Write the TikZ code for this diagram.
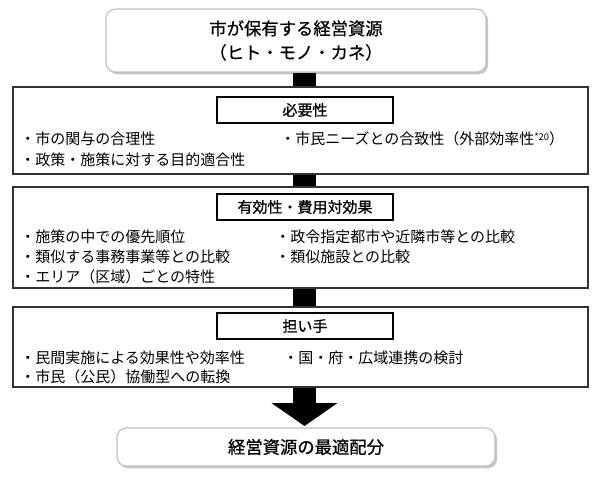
\documentclass[tikz,border=0pt]{standalone}
\usepackage{fontspec}
\setmainfont{Noto Sans CJK JP}
\newfontfamily\gothmed{Noto Sans CJK JP}[FakeBold=0.7]
\usetikzlibrary{shadows,arrows.meta}
\begin{document}
\begin{tikzpicture}[x=0.75pt,y=-0.75pt,
 rbox/.style={draw=black!25, line width=0.8pt, rounded corners=7pt, fill=white,
   drop shadow={shadow xshift=1.6pt, shadow yshift=-1.8pt, fill=black!22, opacity=1},
   inner sep=0pt, align=center, font=\gothmed\fontsize{13}{18}\selectfont},
 bigbox/.style={draw=black!80, line width=1.1pt, inner sep=0pt, minimum width=431.25pt},
 tbox/.style={draw=black, line width=0.8pt, fill=white, inner sep=0pt,
   minimum width=132pt, minimum height=19.5pt, font=\gothmed\fontsize{11.25}{14}\selectfont},
 item/.style={anchor=west, inner sep=0pt, font=\fontsize{11.25}{14}\selectfont},
 bar/.style={line width=17.25pt}
]
\useasboundingbox (0,0) rectangle (600,477);

% main boxes
\node[rbox, minimum width=285pt, minimum height=47.25pt] (top) at (296,40.5)
  {市が保有する経営資源\\（ヒト・モノ・カネ）};
\node[bigbox, minimum height=65.25pt] (box1) at (300.5,130.5) {};
\node[bigbox, minimum height=75.75pt] (box2) at (300.5,237.5) {};
\node[bigbox, minimum height=60pt] (box3) at (300.5,347) {};
\node[rbox, minimum width=283.5pt, minimum height=28.5pt] (bottom) at (306,447) {経営資源の最適配分};

% titles
\node[tbox] (t1) at (305,110) {必要性};
\node[tbox] (t2) at (305,207) {有効性・費用対効果};
\node[tbox] (t3) at (305,326) {担い手};

% items box1
\node[item] (a1) at (20,139) {・市の関与の合理性};
\node[item] (a2) at (20,160) {・政策・施策に対する目的適合性};
\node[item] (a3) at (280,139) {・市民ニーズとの合致性（外部効率性{\fontsize{7}{8}\selectfont\raisebox{0.45em}{*20}}）};

% items box2
\node[item] (b1) at (20,237) {・施策の中での優先順位};
\node[item] (b2) at (20,257) {・類似する事務事業等との比較};
\node[item] (b3) at (20,277) {・エリア（区域）ごとの特性};
\node[item] (b4) at (275,237) {・政令指定都市や近隣市等との比較};
\node[item] (b5) at (275,257) {・類似施設との比較};

% items box3
\node[item] (c1) at (20,358) {・民間実施による効果性や効率性};
\node[item] (c2) at (20,377) {・市民（公民）協働型への転換};
\node[item] (c3) at (283,358) {・国・府・広域連携の検討};

% connectors
\coordinate (cx) at (304.5,0);
\coordinate (tip) at (304.5,426);
\draw[bar] (cx |- top.south) -- (cx |- box1.north);
\draw[bar] (cx |- box1.south) -- (cx |- box2.north);
\draw[bar] (cx |- box2.south) -- (cx |- box3.north);
\draw[bar, -{Triangle[length=17.25pt 0 0, width=48.75pt 0 0]}] (cx |- box3.south) -- (tip);
\end{tikzpicture}
\end{document}
